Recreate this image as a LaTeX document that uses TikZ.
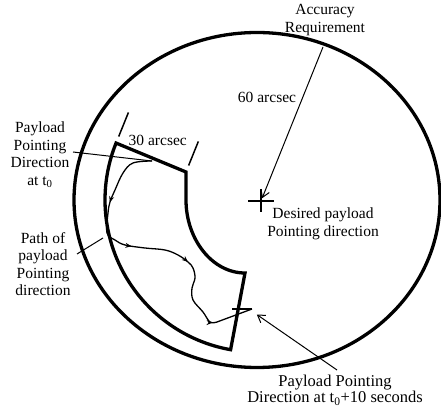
\documentclass[tikz,border=0pt]{standalone}
\usepackage{fontspec}
\setmainfont{Liberation Serif}
\usetikzlibrary{arrows.meta,calc,decorations.markings}

\begin{document}
\begin{tikzpicture}[x=1pt, y=1pt,
  thickline/.style={line width=3.3pt},
  thinline/.style={line width=1pt},
  crossline/.style={line width=1.5pt},
  lbl/.style={align=center, inner sep=0pt, font=\fontsize{15.5}{17.5}\selectfont},
  pathmark/.style={postaction={decorate}, decoration={markings,
    mark=at position 0.22 with {\arrow{Stealth[length=6pt,width=5pt]}},
    mark=at position 0.42 with {\arrow{Stealth[length=6pt,width=5pt]}},
    mark=at position 0.62 with {\arrow{Stealth[length=6pt,width=5pt]}},
    mark=at position 0.86 with {\arrow{Stealth[length=6pt,width=5pt]}}}}]
	\useasboundingbox (0,0) rectangle (441,409);
	\coordinate (o) at (257,209);
	\coordinate (ctr) at (261,208);
	% accuracy circle and pointing region
	\draw[thickline] (o) ellipse[x radius=183, y radius=167.5];
	\draw[thickline, line join=miter] ($(o)+(158:152)$) coordinate (sa) arc[start angle=158, end angle=260, radius=152]
		-- (245,136) .. controls (212,136) and (186,170) .. (186,209) -- (186,237) coordinate (sb) -- cycle;
	\draw[crossline] ($(sa)+(68:7)$) -- ($(sa)+(68:33)$);
	\draw[crossline] ($(sb)+(68:7)$) -- ($(sb)+(68:33)$);
	\node[lbl] (thirty) at ($(sa)!0.5!(sb)+(68:18)$) {30 arcsec};
	% desired direction
	\draw[crossline] ([xshift=-13pt]ctr) -- ([xshift=13pt]ctr);
	\draw[crossline] ([yshift=12pt]ctr) -- ([yshift=-11pt]ctr);
	\node[lbl] (acc) at (325,389) {Accuracy\\Requirement};
	\coordinate (accend) at (323,362);
	\draw[thinline, -{Straight Barb[length=7pt,width=9pt]}, shorten >=3pt] (accend) -- (ctr);
	\node[lbl] (sixty) at (267,312) {60 arcsec};
	\node[lbl] (des) at (323,185) {Desired payload\\Pointing direction};
	% labels on the left
	\node[lbl] (tzero) at (40,254) {Payload\\Pointing\\Direction\\at t\textsubscript{0}};
	\node[lbl] (pathlbl) at (43,145) {Path of\\payload\\Pointing\\direction};
	\node[lbl, font=\fontsize{16.5}{16.5}\selectfont] (tten) at (335,19) {Payload Pointing\\Direction at t\textsubscript{0}+10 seconds};
	\coordinate (p0) at (152,248);
	\coordinate (pend) at (252,100);
	\coordinate (tzl) at (73,257);
	\coordinate (pl1) at (77,155);
	\coordinate (pl2) at (103,171);
	\coordinate (tenarr) at (337,39);
	\draw[thinline] (tzl) -- (p0);
	\draw[thinline] (pl1) -- (pl2);
	% path of pointing direction
	\draw[line width=1.3pt, pathmark] plot[smooth, tension=0.6] coordinates {(p0) (133,246) (123,236) (115,219) (110,207)
		(108,196) (107,176) (115,169) (125,164) (145,161) (165,159) (178,154) (188,147) (193,141) (195,131)
		(192,121) (193,109) (203,97) (210,87) (217,87)} -- (pend);
	\draw[crossline] (pend) -- ++(-20,0);
	\draw[thinline, -{Straight Barb[length=7pt,width=9pt]}, shorten >=1pt] (tenarr) -- ([xshift=4pt,yshift=-5pt]pend);
\end{tikzpicture}
\end{document}
